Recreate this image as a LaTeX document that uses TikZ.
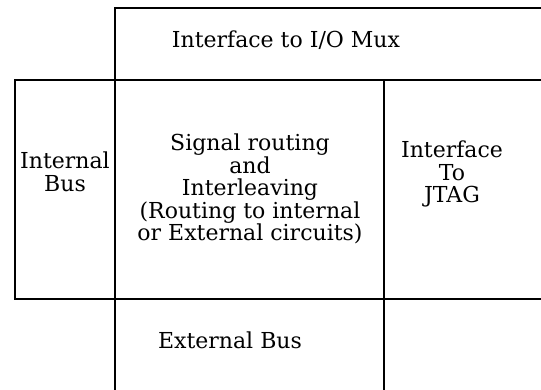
\documentclass[tikz,border=0pt]{standalone}
\usepackage{fontspec}
\setmainfont{DejaVu Serif}
\usepackage{tikz}
\usetikzlibrary{positioning,calc}

\begin{document}
\begin{tikzpicture}[
  x=1pt, y=1pt,
  font=\fontsize{22}{22.5}\selectfont,
  wall/.style={draw, line width=1.1pt, line cap=rect},
  label/.style={align=center, inner sep=0pt}
]
\useasboundingbox (0,0) rectangle (541,389);

% block outlines (cut off at the right and bottom edges)
\coordinate (tl) at (115,381);
\coordinate (ml) at (15,309);
\coordinate (bl) at (15,90);
\draw[wall] (115,0) -- (tl) -- (541,381);
\draw[wall] (bl) -- (ml) -- (541,309);
\draw[wall] (bl) -- (541,90);
\draw[wall] (384,0) -- (384,309);

\node[label, anchor=base] (iomux) at (286,341) {Interface to I/O Mux};
\node[label] (intbus) at (65,217) {Internal\\Bus};
\node[label] (route) at (250,200) {Signal routing\\ and\\ Interleaving\\
  (Routing to internal\\ or External circuits)};
\node[label] (jtag) at (452,215) {Interface\\ To\\ JTAG};
\node[label, anchor=base] (extbus) at (230,41) {External Bus};

\end{tikzpicture}
\end{document}
